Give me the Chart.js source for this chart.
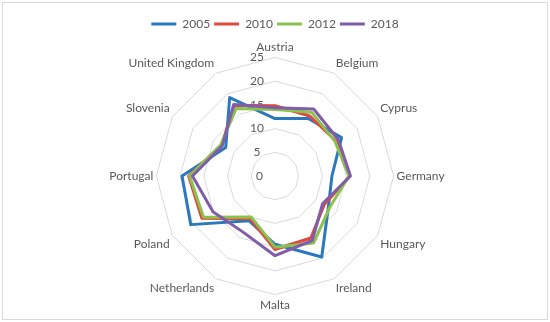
<!DOCTYPE html>
<html>
<head>
<meta charset="utf-8">
<script src="https://cdn.jsdelivr.net/npm/chart.js@4.4.0/dist/chart.umd.min.js"></script>
<style>
    body { margin: 0; background: #fff; }
    #wrap { position: relative; width: 550px; height: 322px; }
    #frame { position: absolute; left: 2px; top: 2px; width: 544px; height: 316px; border: 1px solid #d9d9d9; pointer-events: none; }
</style>
</head>
<body>
<div id="wrap">
    <canvas id="chartRadar" width="550" height="322"></canvas>
    <div id="frame"></div>
</div>
<script>
// categories
const countries = ['Austria', 'Belgium', 'Cyprus', 'Germany', 'Hungary', 'Ireland', 'Malta',
    'Netherlands', 'Poland', 'Portugal', 'Slovenia', 'United Kingdom'];

// series values
const values2005 = [12.1, 14.0, 16.2, 12.0, 13.0, 19.7, 14.4, 10.9, 20.5, 19.6, 12.0, 19.1];
const values2010 = [14.8, 14.6, 14.8, 15.8, 12.0, 15.1, 15.5, 10.4, 17.8, 18.2, 13.0, 17.2];
const values2012 = [14.0, 15.5, 14.6, 15.6, 13.3, 16.3, 15.0, 10.0, 17.4, 18.0, 13.2, 16.4];
const values2018 = [14.4, 16.3, 15.4, 15.9, 11.6, 15.7, 16.8, 13.6, 15.1, 17.4, 12.8, 17.4];

const seriesNames = ['2005', '2010', '2012', '2018'];
const tickValues = [0, 5, 10, 15, 20, 25];

const textGrey = '#595959';
const fontFamily = 'Lato, "Open Sans", sans-serif';

function makeSet(label, data, color, order) {
    return {
        label: label,
        data: data,
        borderColor: color,
        backgroundColor: color,
        borderWidth: 3,
        borderJoinStyle: 'round',
        fill: false,
        tension: 0,
        pointRadius: 0,
        pointHoverRadius: 0,
        order: order
    };
}

// the "0" tick at the centre is skipped by Chart.js, so draw it from the scale
const zeroTick = {
    id: 'zeroTick',
    beforeDatasetsDraw(chart) {
        const r = chart.scales.r;
        const ctx = chart.ctx;
        ctx.save();
        ctx.font = '12px ' + fontFamily;
        ctx.fillStyle = textGrey;
        ctx.textAlign = 'right';
        ctx.textBaseline = 'middle';
        const p = r.getPointPositionForValue(0, tickValues[0]);
        ctx.fillText(String(tickValues[0]), p.x - 12, p.y);
        ctx.restore();
    }
};

let radarChart = new Chart(document.getElementById('chartRadar'), {
    type: 'radar',
    data: {
        labels: countries,
        datasets: [
            makeSet(seriesNames[0], values2005, '#2A78BD', 3),
            makeSet(seriesNames[1], values2010, '#E0473E', 2),
            makeSet(seriesNames[2], values2012, '#8DC14E', 1),
            makeSet(seriesNames[3], values2018, '#7F5DA8', 0)
        ]
    },
    options: {
        responsive: false,
        animation: false,
        layout: { padding: { top: 14, bottom: 10, left: 0, right: 0 } },
        plugins: {
            tooltip: { enabled: false },
            legend: {
                position: 'top',
                labels: {
                    boxWidth: 25,
                    boxHeight: 3,
                    padding: 4,
                    color: textGrey,
                    font: { size: 12, family: fontFamily },
                    sort: (a, b) => a.datasetIndex - b.datasetIndex,
                    generateLabels(chart) {
                        return chart.data.datasets.map((ds, i) => ({
                            text: ds.label,
                            fillStyle: ds.borderColor,
                            strokeStyle: ds.borderColor,
                            lineWidth: 0,
                            fontColor: textGrey,
                            datasetIndex: i
                        }));
                    }
                }
            }
        },
        scales: {
            r: {
                min: 0,
                max: 25,
                ticks: {
                    stepSize: 5,
                    color: textGrey,
                    font: { size: 12, family: fontFamily },
                    showLabelBackdrop: false,
                    backdropPadding: 0,
                    callback: (v) => v + '\u2002\u2002\u2002\u2002\u2002\u2002'
                },
                grid: { color: '#d9d9d9', lineWidth: 1 },
                angleLines: { display: false },
                pointLabels: {
                    color: textGrey,
                    font: { size: 12, family: fontFamily },
                    padding: -3
                }
            }
        }
    },
    plugins: [zeroTick]
});
</script>
</body>
</html>
